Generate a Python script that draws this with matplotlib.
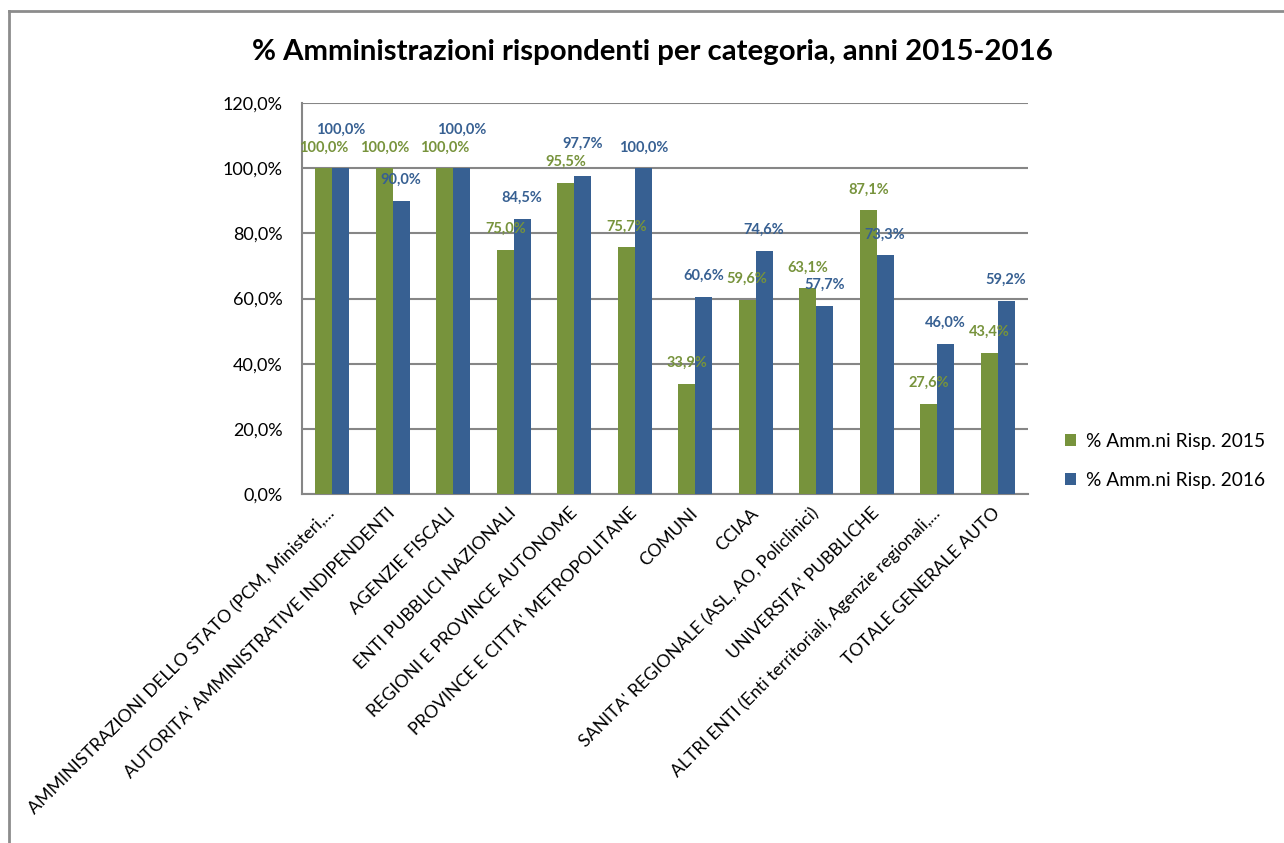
import matplotlib
matplotlib.use("Agg")
import matplotlib.pyplot as plt
from matplotlib.lines import Line2D
import numpy as np

plt.rcParams['font.family'] = ['Lato', 'DejaVu Sans']

# data
categories = [
    "AMMINISTRAZIONI DELLO STATO (PCM, Ministeri,...",
    "AUTORITA' AMMINISTRATIVE INDIPENDENTI",
    "AGENZIE FISCALI",
    "ENTI PUBBLICI NAZIONALI",
    "REGIONI E PROVINCE AUTONOME",
    "PROVINCE E CITTA' METROPOLITANE",
    "COMUNI",
    "CCIAA",
    "SANITA' REGIONALE (ASL, AO, Policlinici)",
    "UNIVERSITA' PUBBLICHE",
    "ALTRI ENTI (Enti territoriali, Agenzie regionali,...",
    "TOTALE GENERALE AUTO",
]
risp_2015 = [100.0, 100.0, 100.0, 75.0, 95.5, 75.7, 33.9, 59.6, 63.1, 87.1, 27.6, 43.4]
risp_2016 = [100.0, 90.0, 100.0, 84.5, 97.7, 100.0, 60.6, 74.6, 57.7, 73.3, 46.0, 59.2]
series_names = ["% Amm.ni Risp. 2015", "% Amm.ni Risp. 2016"]
yticks = [0, 20, 40, 60, 80, 100, 120]

green = "#77933C"
blue = "#376092"
grid_grey = "#868686"


def fmt(v):
    return ("%.1f%%" % v).replace(".", ",")


fig = plt.figure(figsize=(12.84, 8.43), dpi=100)
ax = fig.add_axes([0.2352, 0.414, 0.5654, 0.4638])

x = np.arange(len(categories))
w = 0.28
b1 = ax.bar(x - w / 2, risp_2015, w, color=green, label=series_names[0], zorder=3)
b2 = ax.bar(x + w / 2, risp_2016, w, color=blue, label=series_names[1], zorder=3)

# value labels above the bars (Excel-style, blue lifted when it collides)
lift = 6.4
for i in range(len(categories)):
    gy = risp_2015[i] + lift
    by = risp_2016[i] + lift
    if 0 <= by - gy < 5.5:
        by = gy + 5.5
    ax.text(x[i] - w / 2, gy, fmt(risp_2015[i]), color=green, fontsize=10.5,
            fontweight='bold', ha='center', va='center', zorder=4)
    ax.text(x[i] + w / 2, by, fmt(risp_2016[i]), color=blue, fontsize=10.5,
            fontweight='bold', ha='center', va='center', zorder=4)

ax.set_xlim(-0.5, len(categories) - 0.5)
ax.set_ylim(0, 120)
ax.set_yticks(yticks)
ax.set_yticklabels([fmt(v) for v in yticks], fontsize=13)
ax.yaxis.grid(True, color=grid_grey, linewidth=1.5, zorder=0)
ax.set_axisbelow(True)
ax.tick_params(axis='y', length=0, pad=14)
ax.tick_params(axis='x', length=0, pad=12)
ax.set_xticks(x)
ax.set_xticklabels(categories, rotation=45, ha='right', va='center',
                   rotation_mode='anchor', fontsize=12.8)
for s in ['top', 'right']:
    ax.spines[s].set_visible(False)
for s in ['left', 'bottom']:
    ax.spines[s].set_color(grid_grey)
    ax.spines[s].set_linewidth(1.5)

fig.text(0.508, 0.938, "% Amministrazioni rispondenti per categoria, anni 2015-2016",
         fontsize=21.2, fontweight='bold', ha='center', va='center')

fig.legend(handles=[b1, b2], labels=series_names, loc='center left',
           bbox_to_anchor=(0.816, 0.453), frameon=False, fontsize=13.8,
           handlelength=0.6, handleheight=0.6, handletextpad=0.5,
           labelspacing=1.15)

# chart-area frame (left and top edges visible)
fig.add_artist(Line2D([9 / 1284, 9 / 1284], [0, 1 - 11 / 843],
                      transform=fig.transFigure, color="#8c8c8c", linewidth=2))
fig.add_artist(Line2D([9 / 1284, 1], [1 - 11 / 843, 1 - 11 / 843],
                      transform=fig.transFigure, color="#8c8c8c", linewidth=2))

fig.savefig("out.png", dpi=100)
